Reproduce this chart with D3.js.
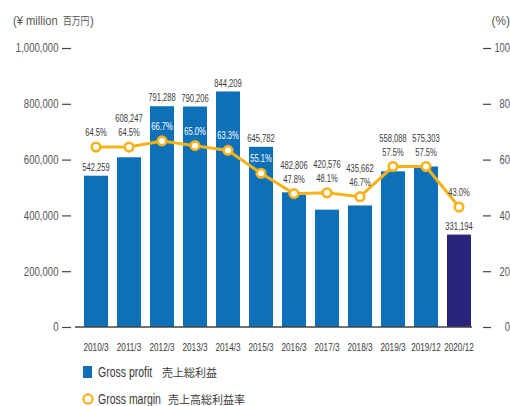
<!DOCTYPE html>
<html>
<head>
<meta charset="utf-8">
<script src="https://cdn.jsdelivr.net/npm/d3@7"></script>
<style>
	body { margin: 0; background: #fff; }
	svg { display: block; }
	text { font-family: "Liberation Sans", Arial, sans-serif; }
	.jp { font-family: "Noto Sans CJK JP", sans-serif; }
</style>
</head>
<body>
<svg id="chart" width="510" height="406"></svg>
<script>
// Data
var periods = ["2010/3","2011/3","2012/3","2013/3","2014/3","2015/3","2016/3","2017/3","2018/3","2019/3","2019/12","2020/12"];
var grossProfit = [542259, 608247, 791288, 790206, 844209, 645782, 482806, 420576, 435662, 558088, 575303, 331194];
var grossMargin = [64.5, 64.5, 66.7, 65.0, 63.3, 55.1, 47.8, 48.1, 46.7, 57.5, 57.5, 43.0];
var leftTicks = [0, 200000, 400000, 600000, 800000, 1000000];
var rightTicks = [0, 20, 40, 60, 80, 100];

var BLUE = "#0E70B8";
var NAVY = "#27247A";
var GOLD = "#F5B31B";
var TEXT = "#3a3a3a";
var AXIS_TEXT = "#555";

var svg = d3.select("#chart");

var x = d3.scaleBand().domain(periods).range([79.5, 475.5]).paddingInner(9/33).paddingOuter(4.5/33);
var y = d3.scaleLinear().domain([0, 1000000]).range([327, 48]);
var yP = d3.scaleLinear().domain([0, 100]).range([327, 48]);

function cx(d) { return x(d) + x.bandwidth() / 2; }

//The reference uses a condensed face, so squeeze text horizontally
function squeezed(px, py, sx) {
	return "translate(" + px + "," + py + ") scale(" + sx + ",1)";
}

//Axis titles
svg.append("text").attr("transform", squeezed(13, 25, 0.86))
	.attr("fill", AXIS_TEXT).attr("font-size", 13).text("(¥ million");
svg.append("text").attr("class", "jp").attr("transform", squeezed(63, 25, 0.8))
	.attr("fill", AXIS_TEXT).attr("font-size", 11).text("百万円");
svg.append("text").attr("transform", squeezed(90, 25, 0.86))
	.attr("fill", AXIS_TEXT).attr("font-size", 13).text(")");
svg.append("text").attr("transform", squeezed(510, 25, 0.95)).attr("text-anchor", "end").attr("fill", AXIS_TEXT)
	.attr("font-size", 12.5).text("(%)");

//Left axis (floating ticks, no domain line)
var leftAxis = svg.append("g").attr("transform", "translate(71,0)")
	.call(d3.axisLeft(y).tickValues(leftTicks).tickSize(9).tickPadding(3).tickFormat(d3.format(",")));
leftAxis.select(".domain").remove();
leftAxis.selectAll("line").attr("stroke", "#444").attr("stroke-width", 1.2);
leftAxis.selectAll("text").attr("fill", AXIS_TEXT).attr("font-size", 12).attr("font-family", null)
	.attr("x", -12.5 / 0.8).attr("transform", "scale(0.8,1)");

//Right axis
var rightAxis = svg.append("g").attr("transform", "translate(483,0)")
	.call(d3.axisRight(yP).tickValues(rightTicks).tickSize(8));
rightAxis.select(".domain").remove();
rightAxis.selectAll("line").attr("stroke", "#444").attr("stroke-width", 1.2);
rightAxis.selectAll("text").attr("fill", AXIS_TEXT).attr("font-size", 12).attr("font-family", null)
	.attr("text-anchor", "end").attr("x", 27 / 0.78).attr("transform", "scale(0.78,1)");

//Bars
svg.append("g").selectAll("rect").data(periods).join("rect")
	.attr("x", function (d) { return x(d); })
	.attr("y", function (d, i) { return y(grossProfit[i]); })
	.attr("width", x.bandwidth())
	.attr("height", function (d, i) { return y(0) - y(grossProfit[i]); })
	.attr("fill", function (d, i) { return i == periods.length - 1 ? NAVY : BLUE; });

//Baseline
svg.append("line").attr("x1", 75).attr("x2", 472).attr("y1", y(0)).attr("y2", y(0))
	.attr("stroke", "#444").attr("stroke-width", 1.3);

//Margin line
var line = d3.line()
	.x(function (d, i) { return cx(periods[i]); })
	.y(function (d) { return yP(d); });
svg.append("path").datum(grossMargin).attr("d", line)
	.attr("fill", "none").attr("stroke", GOLD).attr("stroke-width", 3);
svg.append("g").selectAll("circle").data(grossMargin).join("circle")
	.attr("cx", function (d, i) { return cx(periods[i]); })
	.attr("cy", function (d) { return yP(d); })
	.attr("r", 4.3)
	.attr("fill", "#fff").attr("stroke", GOLD).attr("stroke-width", 2.6);

//Labels: percent above the point, value above the bar or stacked above the percent
function label(px, py, txt, color) {
	svg.append("text")
		.attr("transform", squeezed(px, py, 0.66))
		.attr("text-anchor", "middle").attr("dy", "0.35em")
		.attr("font-size", 11.5).attr("fill", color).text(txt);
}
periods.forEach(function (p, i) {
	var px = cx(p);
	var barTop = y(grossProfit[i]);
	var pointY = yP(grossMargin[i]);
	var pctY = pointY - 15;
	var inside = barTop < pctY - 5;
	var valY;
	if (inside || barTop > pointY + 20) {
		valY = barTop - 9;
	} else {
		valY = pctY - 14;
	}
	label(px, pctY, grossMargin[i].toFixed(1) + "%", inside ? "#fff" : TEXT);
	label(px, valY, d3.format(",")(grossProfit[i]), TEXT);
});

//Category labels
svg.append("g").selectAll("text").data(periods).join("text")
	.attr("transform", function (d) { return squeezed(cx(d), 351, 0.73); })
	.attr("text-anchor", "middle").attr("font-size", 11.2).attr("fill", TEXT)
	.text(function (d) { return d; });

//Legend
svg.append("rect").attr("x", 83).attr("y", 366).attr("width", 9).attr("height", 12).attr("fill", BLUE);
svg.append("text").attr("transform", squeezed(98, 377, 0.75)).attr("font-size", 14).attr("fill", TEXT).text("Gross profit");
svg.append("text").attr("class", "jp").attr("x", 162).attr("y", 376.5).attr("font-size", 11).attr("fill", TEXT).text("売上総利益");
svg.append("circle").attr("cx", 88).attr("cy", 399).attr("r", 4.6)
	.attr("fill", "#fff").attr("stroke", GOLD).attr("stroke-width", 2.2);
svg.append("text").attr("transform", squeezed(98, 404, 0.75)).attr("font-size", 14).attr("fill", TEXT).text("Gross margin");
svg.append("text").attr("class", "jp").attr("x", 168).attr("y", 403.5).attr("font-size", 11).attr("fill", TEXT).text("売上高総利益率");
</script>
</body>
</html>
